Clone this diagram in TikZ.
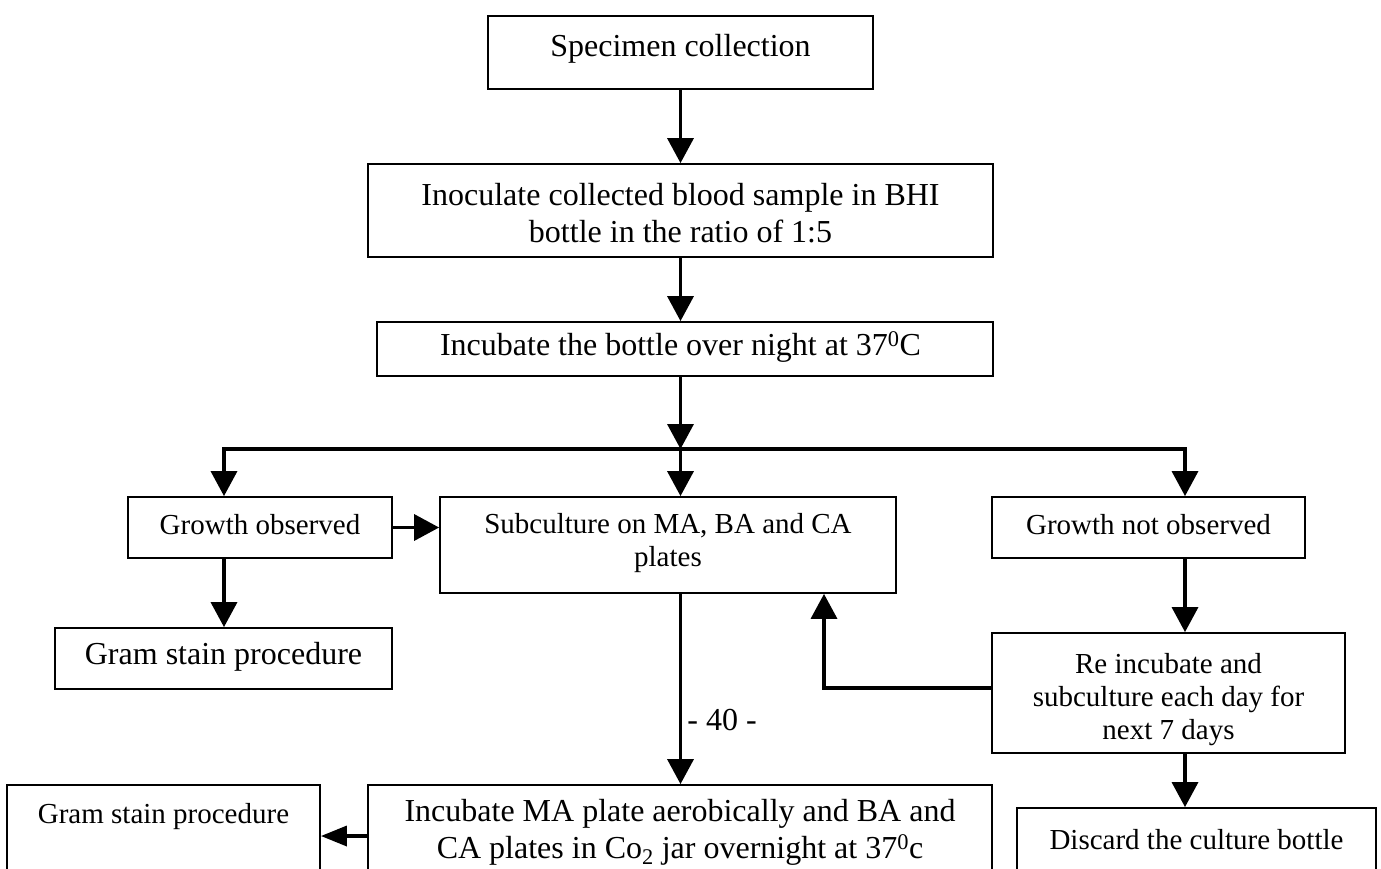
\documentclass[tikz,border=0pt]{standalone}
\usepackage{fontspec}
\setmainfont{Liberation Serif}
\usetikzlibrary{arrows.meta}
\begin{document}
\begin{tikzpicture}[x=1pt,y=-1pt,
  box/.style={draw, line width=1.8pt, inner sep=0pt},
  big/.style={font=\fontsize{32}{37}\selectfont, align=center, inner sep=0pt},
  small/.style={font=\fontsize{29}{33}\selectfont, align=center, inner sep=0pt},
  conn/.style={line width=3.5pt, -{Triangle[length=25pt,width=26pt]}},
  connsm/.style={line width=3.5pt, -{Triangle[length=26pt,width=20pt]}}]
\clip (0,0) rectangle (1381,868);
% boxes
\node[box, minimum width=385pt, minimum height=73pt] (spec) at (680.5,52.5) {};
\node[box, minimum width=625pt, minimum height=93pt] (inoc) at (680.5,210.5) {};
\node[box, minimum width=616pt, minimum height=54pt] (incb) at (685,349) {};
\node[box, minimum width=264pt, minimum height=61pt] (grow) at (260,527.5) {};
\node[box, minimum width=456pt, minimum height=96pt] (sub) at (668,545) {};
\node[box, minimum width=313pt, minimum height=61pt] (gno) at (1148.5,527.5) {};
\node[box, minimum width=337pt, minimum height=61pt] (gram1) at (223.5,658.5) {};
\node[box, minimum width=353pt, minimum height=120pt] (reinc) at (1168.5,693) {};
\node[box, minimum width=624pt, minimum height=102pt] (incma) at (680,836) {};
\node[box, minimum width=313pt, minimum height=102pt] (gram2) at (163.5,836) {};
\node[box, minimum width=359pt, minimum height=100pt] (disc) at (1196.5,858) {};
% texts
\node[big] (spect) at (680.5,49) {Specimen collection};
\node[big] (inoct) at (680.5,213) {Inoculate collected blood sample in BHI\\bottle in the ratio of 1:5};
\node[big] (incbt) at (680.5,347) {Incubate the bottle over night at 37\textsuperscript{0}C};
\node[small] (growt) at (260,525) {Growth observed};
\node[small] (subt) at (668,543) {Subculture on MA, BA and CA\\plates};
\node[small] (gnot) at (1148.5,525) {Growth not observed};
\node[big] (gram1t) at (223.5,657) {Gram stain procedure};
\node[small] (reinct) at (1168.5,700) {Re incubate and\\subculture each day for\\next 7 days};
\node[big] (incmat) at (680,832) {Incubate MA plate aerobically and BA and\\CA plates in Co\textsubscript{2} jar overnight at 37\textsuperscript{0}c};
\node[small] (gram2t) at (163.5,817) {Gram stain procedure};
\node[small] (disct) at (1196.5,840) {Discard the culture bottle};
\node[big] (forty) at (722,720) {- 40 -};
% helper coordinates
\coordinate (br) at (680.5,449);
\coordinate (bl) at (224,449);
\coordinate (brr) at (1185,449);
\coordinate (lp) at (824,688);
% connectors
\draw[conn] (spec) -- (inoc);
\draw[conn] (inoc.south) -- (inoc.south |- incb.north);
\draw[conn] (incb.south -| br) -- (br);
\draw[conn] (br) -| (grow.north -| bl);
\draw[conn] (br) -| (gno.north -| brr);
\draw[conn] (br) -- (sub.north -| br);
\draw[conn] (grow.east) -- (grow.east -| sub.west);
\draw[conn] (grow.south -| bl) -- (gram1.north -| bl);
\draw[conn] (gno.south -| brr) -- (reinc.north -| brr);
\draw[conn] (reinc.west |- lp) -- (lp) -- (sub.south -| lp);
\draw[conn] (sub.south -| br) -- (incma.north -| br);
\draw[connsm] (incma.west) -- (gram2.east |- incma.west);
\draw[conn] (reinc.south -| brr) -- (disc.north -| brr);
\end{tikzpicture}
\end{document}
